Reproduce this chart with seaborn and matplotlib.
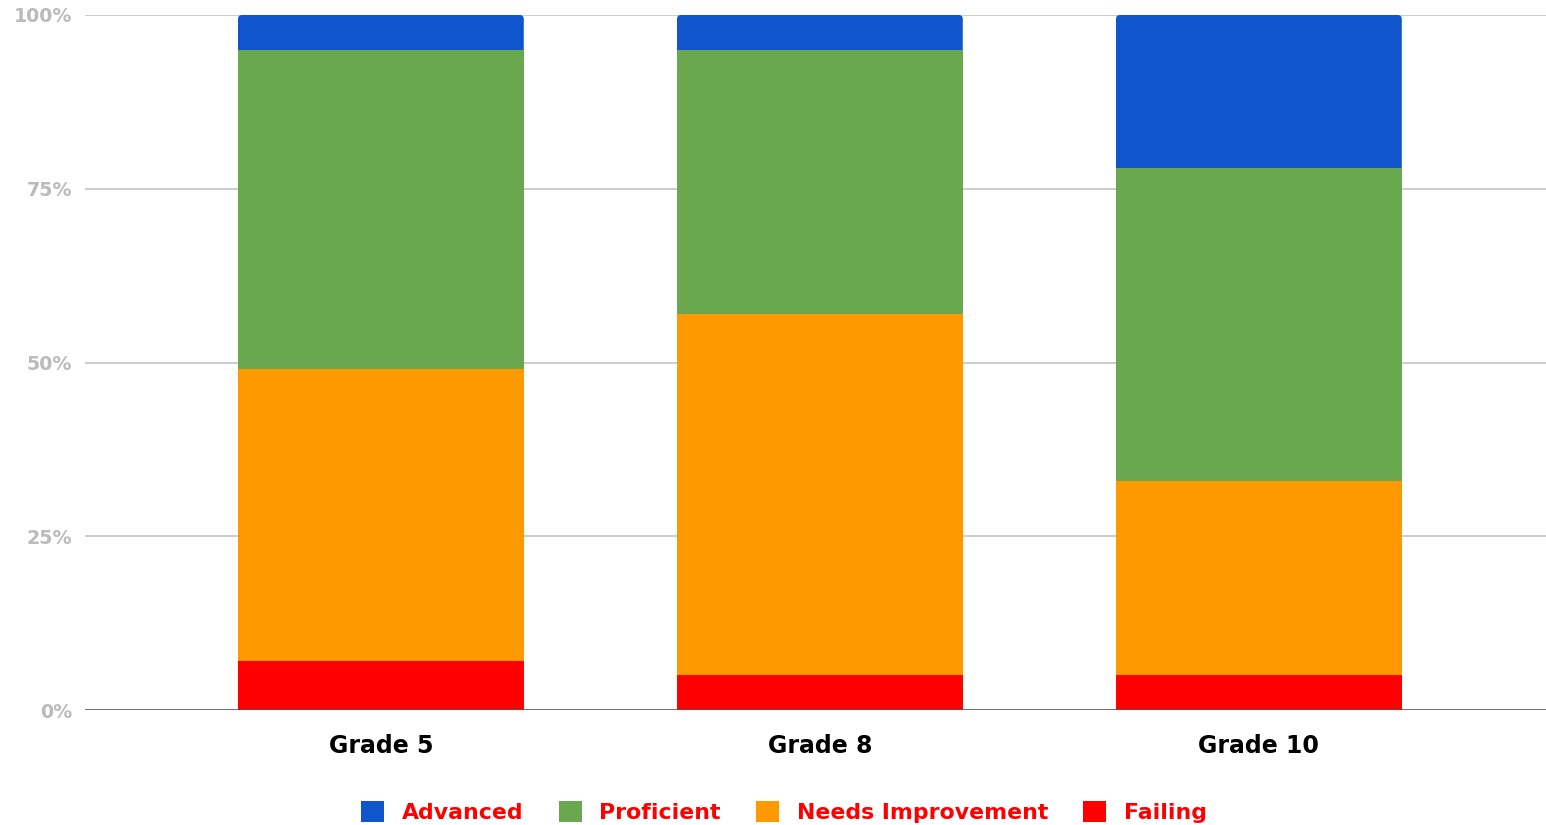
import matplotlib
matplotlib.use("Agg")
import matplotlib.pyplot as plt
import seaborn as sns
import pandas as pd
from matplotlib.patches import Patch, FancyBboxPatch

# Share of students at each performance level, per grade (percent)
grades = ["Grade 5", "Grade 8", "Grade 10"]
levels = ["Advanced", "Proficient", "Needs Improvement", "Failing"]
failing = [7, 5, 5]
needs_improvement = [42, 52, 28]
proficient = [46, 38, 45]
advanced = [5, 5, 22]
y_ticks = [0, 25, 50, 75, 100]
y_tick_labels = ["0%", "25%", "50%", "75%", "100%"]

level_colors = {
    "Advanced": "#1155CC",
    "Proficient": "#6AA84F",
    "Needs Improvement": "#FF9900",
    "Failing": "#FF0000",
}

sns.set_theme(style="white")
plt.rcParams["font.family"] = ["DejaVu Sans"]

df = pd.DataFrame({
    "grade": grades,
    "Failing": failing,
    "Needs Improvement": needs_improvement,
    "Proficient": proficient,
    "Advanced": advanced,
})
# cumulative tops, stacked from the bottom (Failing) upward
stack_order = ["Failing", "Needs Improvement", "Proficient", "Advanced"]
df[stack_order] = df[stack_order].cumsum(axis=1)

W, H = 1546, 825
fig = plt.figure(figsize=(W / 100, H / 100), dpi=100)
ax = fig.add_axes([85 / W, 1 - 710 / H, 1 - 85 / W, (710 - 15) / H])

xlim = (-0.674, 2.654)
ylim = (0, 100)
bar_width = 0.651

# draw tallest cumulative layer first so lower layers sit on top of it
for i, level in enumerate(reversed(stack_order)):
    n_before = len(ax.patches)
    sns.barplot(data=df, x="grade", y=level, order=grades,
                color=level_colors[level], saturation=1, width=bar_width,
                linewidth=0, ax=ax, zorder=3)
    if i == 0:
        # give the full-height bars softly rounded top corners
        ax_w_px = (1 - 85 / W) * W
        ax_h_px = (710 - 15)
        px_x = (xlim[1] - xlim[0]) / ax_w_px
        px_y = (ylim[1] - ylim[0]) / ax_h_px
        radius_px = 4
        for p in ax.patches[n_before:]:
            x0, y0 = p.get_x(), p.get_y()
            w, h = p.get_width(), p.get_height()
            rounded = FancyBboxPatch(
                (x0, y0), w, h,
                boxstyle=f"round,pad=0,rounding_size={radius_px * px_x}",
                mutation_aspect=px_y / px_x,
                facecolor=p.get_facecolor(), edgecolor="none",
                linewidth=0, zorder=3)
            p.set_visible(False)
            ax.add_patch(rounded)

ax.set_xlim(*xlim)
ax.set_ylim(*ylim)
ax.set_yticks(y_ticks)
ax.set_yticklabels(y_tick_labels)
ax.set_xlabel("")
ax.set_ylabel("")

ax.yaxis.grid(True, color="#CCCCCC", linewidth=1.4, zorder=0)
ax.set_axisbelow(True)
ax.axhline(0, color="#555555", linewidth=1.8, zorder=4)
for spine in ax.spines.values():
    spine.set_visible(False)

ax.tick_params(axis="y", length=0, pad=9, labelsize=13.7, labelcolor="#BBBBBB")
ax.tick_params(axis="x", length=0, pad=17, labelsize=17, labelcolor="#000000")
for lab in ax.get_yticklabels() + ax.get_xticklabels():
    lab.set_fontweight("bold")

handles = [Patch(facecolor=level_colors[l], edgecolor="none", label=l) for l in levels]
leg = fig.legend(handles=handles, loc="center", ncol=4,
                 bbox_to_anchor=(784 / W, 1 - 812 / H), frameon=False,
                 prop={"weight": "bold", "size": 15.8},
                 handlelength=1.05, handleheight=1.1, handletextpad=0.8,
                 columnspacing=1.6)
for t in leg.get_texts():
    t.set_color("#FF0000")

fig.savefig("out.png", dpi=100)
